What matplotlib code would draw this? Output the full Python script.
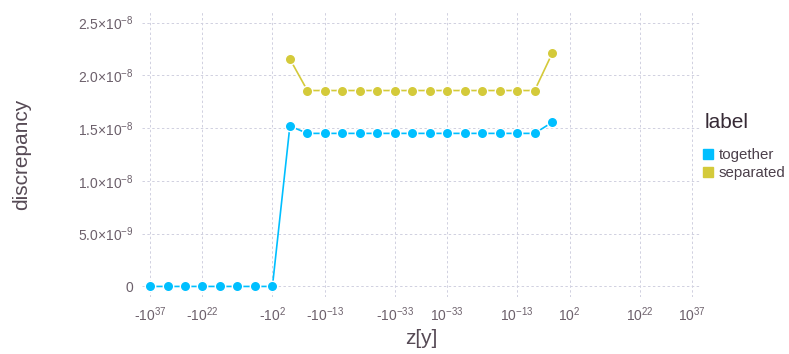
import numpy as np
import matplotlib
matplotlib.use("Agg")
import matplotlib.pyplot as plt
from matplotlib.lines import Line2D

plt.rcParams['font.family'] = ['Liberation Sans', 'DejaVu Sans']
plt.rcParams['mathtext.fontset'] = 'custom'
plt.rcParams['mathtext.rm'] = 'Liberation Sans'
plt.rcParams['mathtext.default'] = 'regular'

# z values (x axis), spaced 5 decades apart on a signed log scale
z = [-1e37, -1e32, -1e27, -1e22, -1e17, -1e12, -1e7, -1e2,
     -1e-3, -1e-8, -1e-13, -1e-18, -1e-23, -1e-28, -1e-33, -1e-38,
     1e-38, 1e-33, 1e-28, 1e-23, 1e-18, 1e-13, 1e-8, 1e-3]

together = [0, 0, 0, 0, 0, 0, 0, 0,
            1.52e-8, 1.45e-8, 1.45e-8, 1.45e-8, 1.45e-8, 1.45e-8, 1.45e-8, 1.45e-8,
            1.45e-8, 1.45e-8, 1.45e-8, 1.45e-8, 1.45e-8, 1.45e-8, 1.45e-8, 1.555e-8]

separated = [np.nan] * 8 + [2.155e-8, 1.856e-8, 1.856e-8, 1.856e-8, 1.856e-8, 1.856e-8,
                            1.856e-8, 1.856e-8, 1.856e-8, 1.856e-8, 1.856e-8, 1.856e-8,
                            1.856e-8, 1.856e-8, 1.856e-8, 2.207e-8]

xticks = [-1e37, -1e22, -1e2, -1e-13, -1e-33, 1e-33, 1e-13, 1e2, 1e22, 1e37]
xticklabels = ['-10$^{37}$', '-10$^{22}$', '-10$^{2}$', '-10$^{-13}$', '-10$^{-33}$',
               '10$^{-33}$', '10$^{-13}$', '10$^{2}$', '10$^{22}$', '10$^{37}$']
yticks = [0, 5e-9, 1e-8, 1.5e-8, 2e-8, 2.5e-8]
yticklabels = ['0', '5.0×10$^{-9}$', '1.0×10$^{-8}$', '1.5×10$^{-8}$',
               '2.0×10$^{-8}$', '2.5×10$^{-8}$']

c_tog = '#00BFFF'
c_sep = '#D4CA3A'


def fwd(v):
    v = np.asarray(v, dtype=float)
    with np.errstate(divide='ignore', invalid='ignore'):
        out = np.sign(v) * (np.log10(np.abs(v)) + 40.5)
    return np.nan_to_num(out, nan=0.0)


def inv(u):
    u = np.asarray(u, dtype=float)
    return np.sign(u) * 10 ** (np.abs(u) - 40.5)


fig = plt.figure(figsize=(7.89, 3.54), dpi=100)
ax = fig.add_axes([142 / 789, 57 / 354, 558 / 789, 285 / 354])
ax.set_xscale('function', functions=(fwd, inv))

for vals, c in [(together, c_tog), (separated, c_sep)]:
    ax.plot(z, vals, color=c, lw=1.2, marker='o', markersize=7.5,
            markeredgecolor='white', markeredgewidth=1.0, zorder=3)

ax.set_xlim(inv(-79.8), inv(79.8))
ax.set_ylim(-0.1e-8, 2.6e-8)
ax.set_xticks(xticks)
ax.set_xticklabels(xticklabels)
ax.set_yticks(yticks)
ax.set_yticklabels(yticklabels)
ax.minorticks_off()

ax.grid(True, color='#D0D0E0', linestyle=(0, (2.5, 2.5)), linewidth=0.7)
ax.set_axisbelow(True)
for s in ax.spines.values():
    s.set_visible(False)
ax.tick_params(length=0, labelsize=10, colors='#6C606B', pad=6)

ax.set_xlabel('z[y]', fontsize=15, color='#564A55', labelpad=4)
ax.set_ylabel('discrepancy', fontsize=15, color='#564A55', labelpad=34)

# legend: title drawn separately for spacing like the reference
fig.text(705 / 789, 1 - 122 / 354, 'label', fontsize=15, color='#362A35',
         ha='left', va='center')
handles = [Line2D([], [], marker='s', linestyle='', color=c_tog, markersize=7.5),
           Line2D([], [], marker='s', linestyle='', color=c_sep, markersize=7.5)]
leg = fig.legend(handles, ['together', 'separated'],
                 loc='upper left', bbox_to_anchor=(703 / 789, 1 - 148 / 354),
                 frameon=False, fontsize=10.8,
                 handlelength=0.7, handletextpad=0.35, labelspacing=0.3,
                 borderaxespad=0, borderpad=0)
for t in leg.get_texts():
    t.set_color('#4C404B')

fig.savefig('out.png', dpi=100)
